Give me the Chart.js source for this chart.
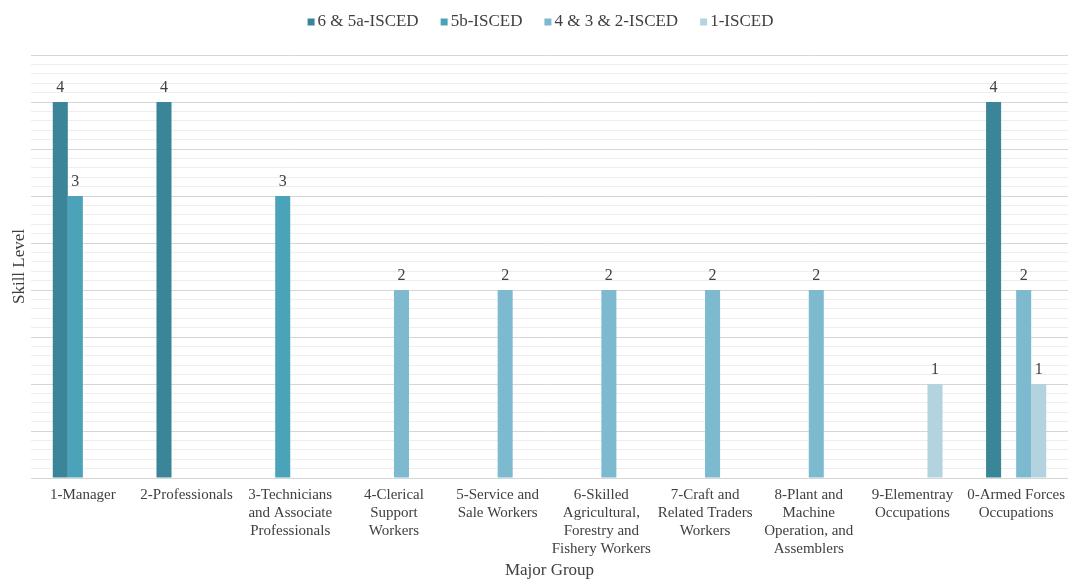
<!DOCTYPE html>
<html>
<head>
<meta charset="utf-8">
<script src="https://cdn.jsdelivr.net/npm/chart.js@4/dist/chart.umd.min.js"></script>
<style>
html,body{margin:0;padding:0;background:#fff;overflow:hidden;}
#wrap{width:1068px;height:579px;position:relative;}
</style>
</head>
<body>
<div id="wrap"><canvas id="c"></canvas></div>
<script>
const categories = [
  "1-Manager",
  "2-Professionals",
  ["3-Technicians", "and Associate", "Professionals"],
  ["4-Clerical", "Support", "Workers"],
  ["5-Service and", "Sale Workers"],
  ["6-Skilled", "Agricultural,", "Forestry and", "Fishery Workers"],
  ["7-Craft and", "Related Traders", "Workers"],
  ["8-Plant and", "Machine", "Operation, and", "Assemblers"],
  ["9-Elementray", "Occupations"],
  ["0-Armed Forces", "Occupations"]
];
const seriesNames = ["6 & 5a-ISCED", "5b-ISCED", "4 & 3 & 2-ISCED", "1-ISCED"];
const isced65a = [4, 4, null, null, null, null, null, null, null, 4];
const isced5b = [3, null, 3, null, null, null, null, null, null, null];
const isced432 = [null, null, null, 2, 2, 2, 2, 2, null, 2];
const isced1 = [null, null, null, null, null, null, null, null, 1, 1];
const colors = ["#3a8598", "#4aa3b8", "#7dbacf", "#b3d3df"];

const FONT = "'Liberation Serif', 'Times New Roman', serif";
const TEXT = "#404040";

const barLabels = {
  id: 'barLabels',
  afterDatasetsDraw(chart) {
    const ctx = chart.ctx;
    ctx.save();
    ctx.font = "16px " + FONT;
    ctx.fillStyle = TEXT;
    ctx.textAlign = "center";
    ctx.textBaseline = "alphabetic";
    chart.data.datasets.forEach((ds, i) => {
      const meta = chart.getDatasetMeta(i);
      if (meta.hidden) return;
      meta.data.forEach((bar, j) => {
        const v = ds.data[j];
        if (v === null || v === undefined) return;
        ctx.fillText(String(v), bar.x, bar.y - 10);
      });
    });
    ctx.restore();
  }
};

// Legend drawn from the chart's datasets (Excel-like spacing)
const topLegend = {
  id: 'topLegend',
  afterDraw(chart) {
    const ctx = chart.ctx;
    ctx.save();
    ctx.font = "17px " + FONT;
    const box = 7, gapBoxText = 3, gapItems = 22;
    const items = chart.data.datasets.map(ds => ({
      text: ds.label, color: ds.backgroundColor, w: ctx.measureText(ds.label).width
    }));
    let total = 0;
    items.forEach((it, i) => { total += box + gapBoxText + it.w + (i < items.length - 1 ? gapItems : 0); });
    let x = 540.5 - total / 2;
    const cy = 22;
    ctx.textBaseline = "middle";
    ctx.textAlign = "left";
    items.forEach(it => {
      ctx.fillStyle = it.color;
      ctx.fillRect(x, cy - 3.5, box, box);
      ctx.fillStyle = TEXT;
      ctx.fillText(it.text, x + box + gapBoxText, cy);
      x += box + gapBoxText + it.w + gapItems;
    });
    ctx.restore();
  }
};

const dsList = [isced65a, isced5b, isced432, isced1].map((d, i) => ({
  label: seriesNames[i],
  data: d,
  backgroundColor: colors[i],
  borderWidth: 0,
  categoryPercentage: 0.58,
  barPercentage: 1.0
}));

new Chart(document.getElementById('c'), {
  type: 'bar',
  data: { labels: categories, datasets: dsList },
  plugins: [barLabels, topLegend],
  options: {
    responsive: true,
    maintainAspectRatio: false,
    animation: false,
    layout: { padding: { left: 0, right: 0, top: 55, bottom: 0 } },
    plugins: {
      legend: { display: false },
      tooltip: { enabled: false }
    },
    scales: {
      x: {
        grid: { display: false, drawTicks: false },
        border: { display: false },
        ticks: {
          font: { family: FONT, size: 15, lineHeight: 1.2 },
          color: TEXT,
          maxRotation: 0,
          autoSkip: false,
          padding: 8
        },
        title: {
          display: true,
          text: 'Major Group',
          font: { family: FONT, size: 17, lineHeight: 1 },
          color: TEXT,
          padding: { top: 0, bottom: 0 }
        },
        afterFit: (scale) => {
          scale.height = 101;
          scale.paddingLeft = 0;
          scale.paddingRight = 0;
        }
      },
      y: {
        min: 0,
        max: 4.5,
        grid: {
          drawTicks: false,
          color: (ctx) => {
            const v = ctx.tick ? ctx.tick.value : 0;
            return Math.abs(v * 2 - Math.round(v * 2)) < 1e-6 ? '#d6d6d6' : '#eeeeee';
          }
        },
        border: { display: false },
        ticks: { display: false, stepSize: 0.1, maxTicksLimit: 100 },
        title: {
          display: true,
          text: 'Skill Level',
          font: { family: FONT, size: 17, lineHeight: 1 },
          color: TEXT,
          padding: { top: 11, bottom: 0 }
        },
        afterFit: (scale) => {
          scale.width = 31;
        }
      }
    }
  }
});
</script>
</body>
</html>
